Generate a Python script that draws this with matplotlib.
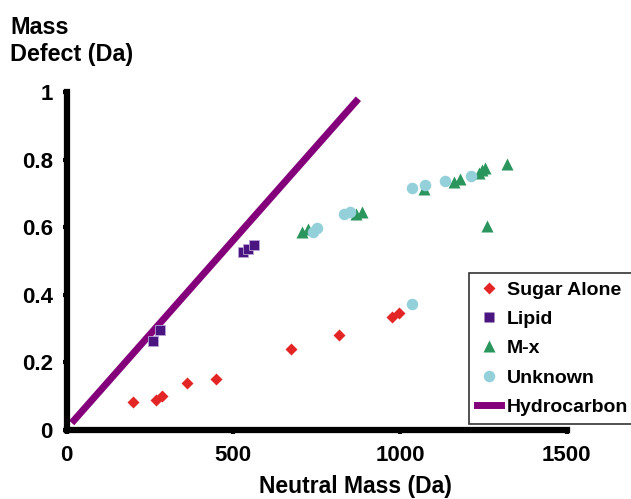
import numpy as np
from matplotlib import pyplot as plt
from matplotlib.lines import Line2D

plt.rcParams['font.family'] = ['Liberation Sans', 'DejaVu Sans']
plt.rcParams['font.weight'] = 'bold'

# Sugar Alone
sugar_mass = [199, 269, 287, 362, 449, 672, 816, 977, 996]
sugar_defect = [0.082, 0.087, 0.099, 0.137, 0.151, 0.240, 0.281, 0.335, 0.347]

# Lipid
lipid_mass = [259, 279, 530, 545, 562]
lipid_defect = [0.264, 0.294, 0.526, 0.536, 0.546]

# M-x
mx_mass = [705, 725, 868, 885, 1072, 1162, 1180, 1237, 1245, 1254, 1322, 1262]
mx_defect = [0.585, 0.595, 0.638, 0.645, 0.714, 0.733, 0.741, 0.760, 0.770, 0.775, 0.786, 0.604]

# Unknown
unk_mass = [738, 752, 833, 850, 1037, 1075, 1135, 1213, 1037]
unk_defect = [0.585, 0.596, 0.638, 0.645, 0.716, 0.726, 0.736, 0.751, 0.371]

# Hydrocarbon line
hc_mass = [15, 875]
hc_defect = [0.02, 0.98]

RED = '#e32526'
PURPLE = '#4a1580'
GREEN = '#2a955c'
CYAN = '#93d0d9'
HC = '#84007a'

fig = plt.figure(figsize=(6.31, 4.99), dpi=100)
ax = fig.add_axes([0.1057, 0.1389, 0.7924, 0.6767])

ax.plot(hc_mass, hc_defect, color=HC, lw=5, solid_capstyle='butt', zorder=2)
ax.plot(sugar_mass, sugar_defect, 'D', color=RED, ms=6.3, mec='none', zorder=3)
ax.plot(lipid_mass, lipid_defect, 's', color=PURPLE, ms=7.5, mec='#b9a3d6', mew=0.6, zorder=3)
ax.plot(mx_mass, mx_defect, '^', color=GREEN, ms=8.5, mec='none', zorder=3)
ax.plot(unk_mass, unk_defect, 'o', color=CYAN, ms=8.3, mec='none', zorder=4)

ax.set_xlim(0, 1500)
ax.set_ylim(0, 1)
ax.set_xticks([0, 500, 1000, 1500])
ax.set_yticks([0, 0.2, 0.4, 0.6, 0.8, 1])
ax.set_yticklabels(['0', '0.2', '0.4', '0.6', '0.8', '1'])

for s in ['top', 'right']:
    ax.spines[s].set_visible(False)
for s in ['left', 'bottom']:
    ax.spines[s].set_linewidth(4.5)
    ax.spines[s].set_capstyle('projecting')

ax.tick_params(axis='both', direction='out', length=3, width=3, labelsize=16)
ax.tick_params(axis='y', pad=7)
ax.tick_params(axis='x', pad=8)
for lab in ax.get_xticklabels() + ax.get_yticklabels():
    lab.set_fontweight('bold')

ax.set_xlabel('Neutral Mass (Da)', fontsize=16.5, fontweight='bold')
ax.xaxis.set_label_coords(0.577, -0.135)
fig.text(0.016, 0.968, 'Mass\nDefect (Da)', fontsize=16.8, fontweight='bold',
         ha='left', va='top', linespacing=1.2)

handles = [
    Line2D([], [], marker='D', ls='none', color=RED, ms=6.3, mec='none'),
    Line2D([], [], marker='s', ls='none', color=PURPLE, ms=7.5, mec='none'),
    Line2D([], [], marker='^', ls='none', color=GREEN, ms=8.5, mec='none'),
    Line2D([], [], marker='o', ls='none', color=CYAN, ms=8.3, mec='none'),
    Line2D([], [], color=HC, lw=5),
]
labels = ['Sugar Alone', 'Lipid', 'M-x', 'Unknown', 'Hydrocarbon']
leg = fig.legend(handles, labels, loc='upper left', bbox_to_anchor=(0.743, 0.453),
                 frameon=True, fancybox=False, shadow=False,
                 prop={'weight': 'bold', 'size': 14}, handlelength=1.25,
                 handletextpad=0.3, labelspacing=0.6, borderpad=0.42,
                 borderaxespad=0)
leg.get_frame().set_edgecolor('black')
leg.get_frame().set_linewidth(1.2)

fig.savefig('out.png', dpi=100)
